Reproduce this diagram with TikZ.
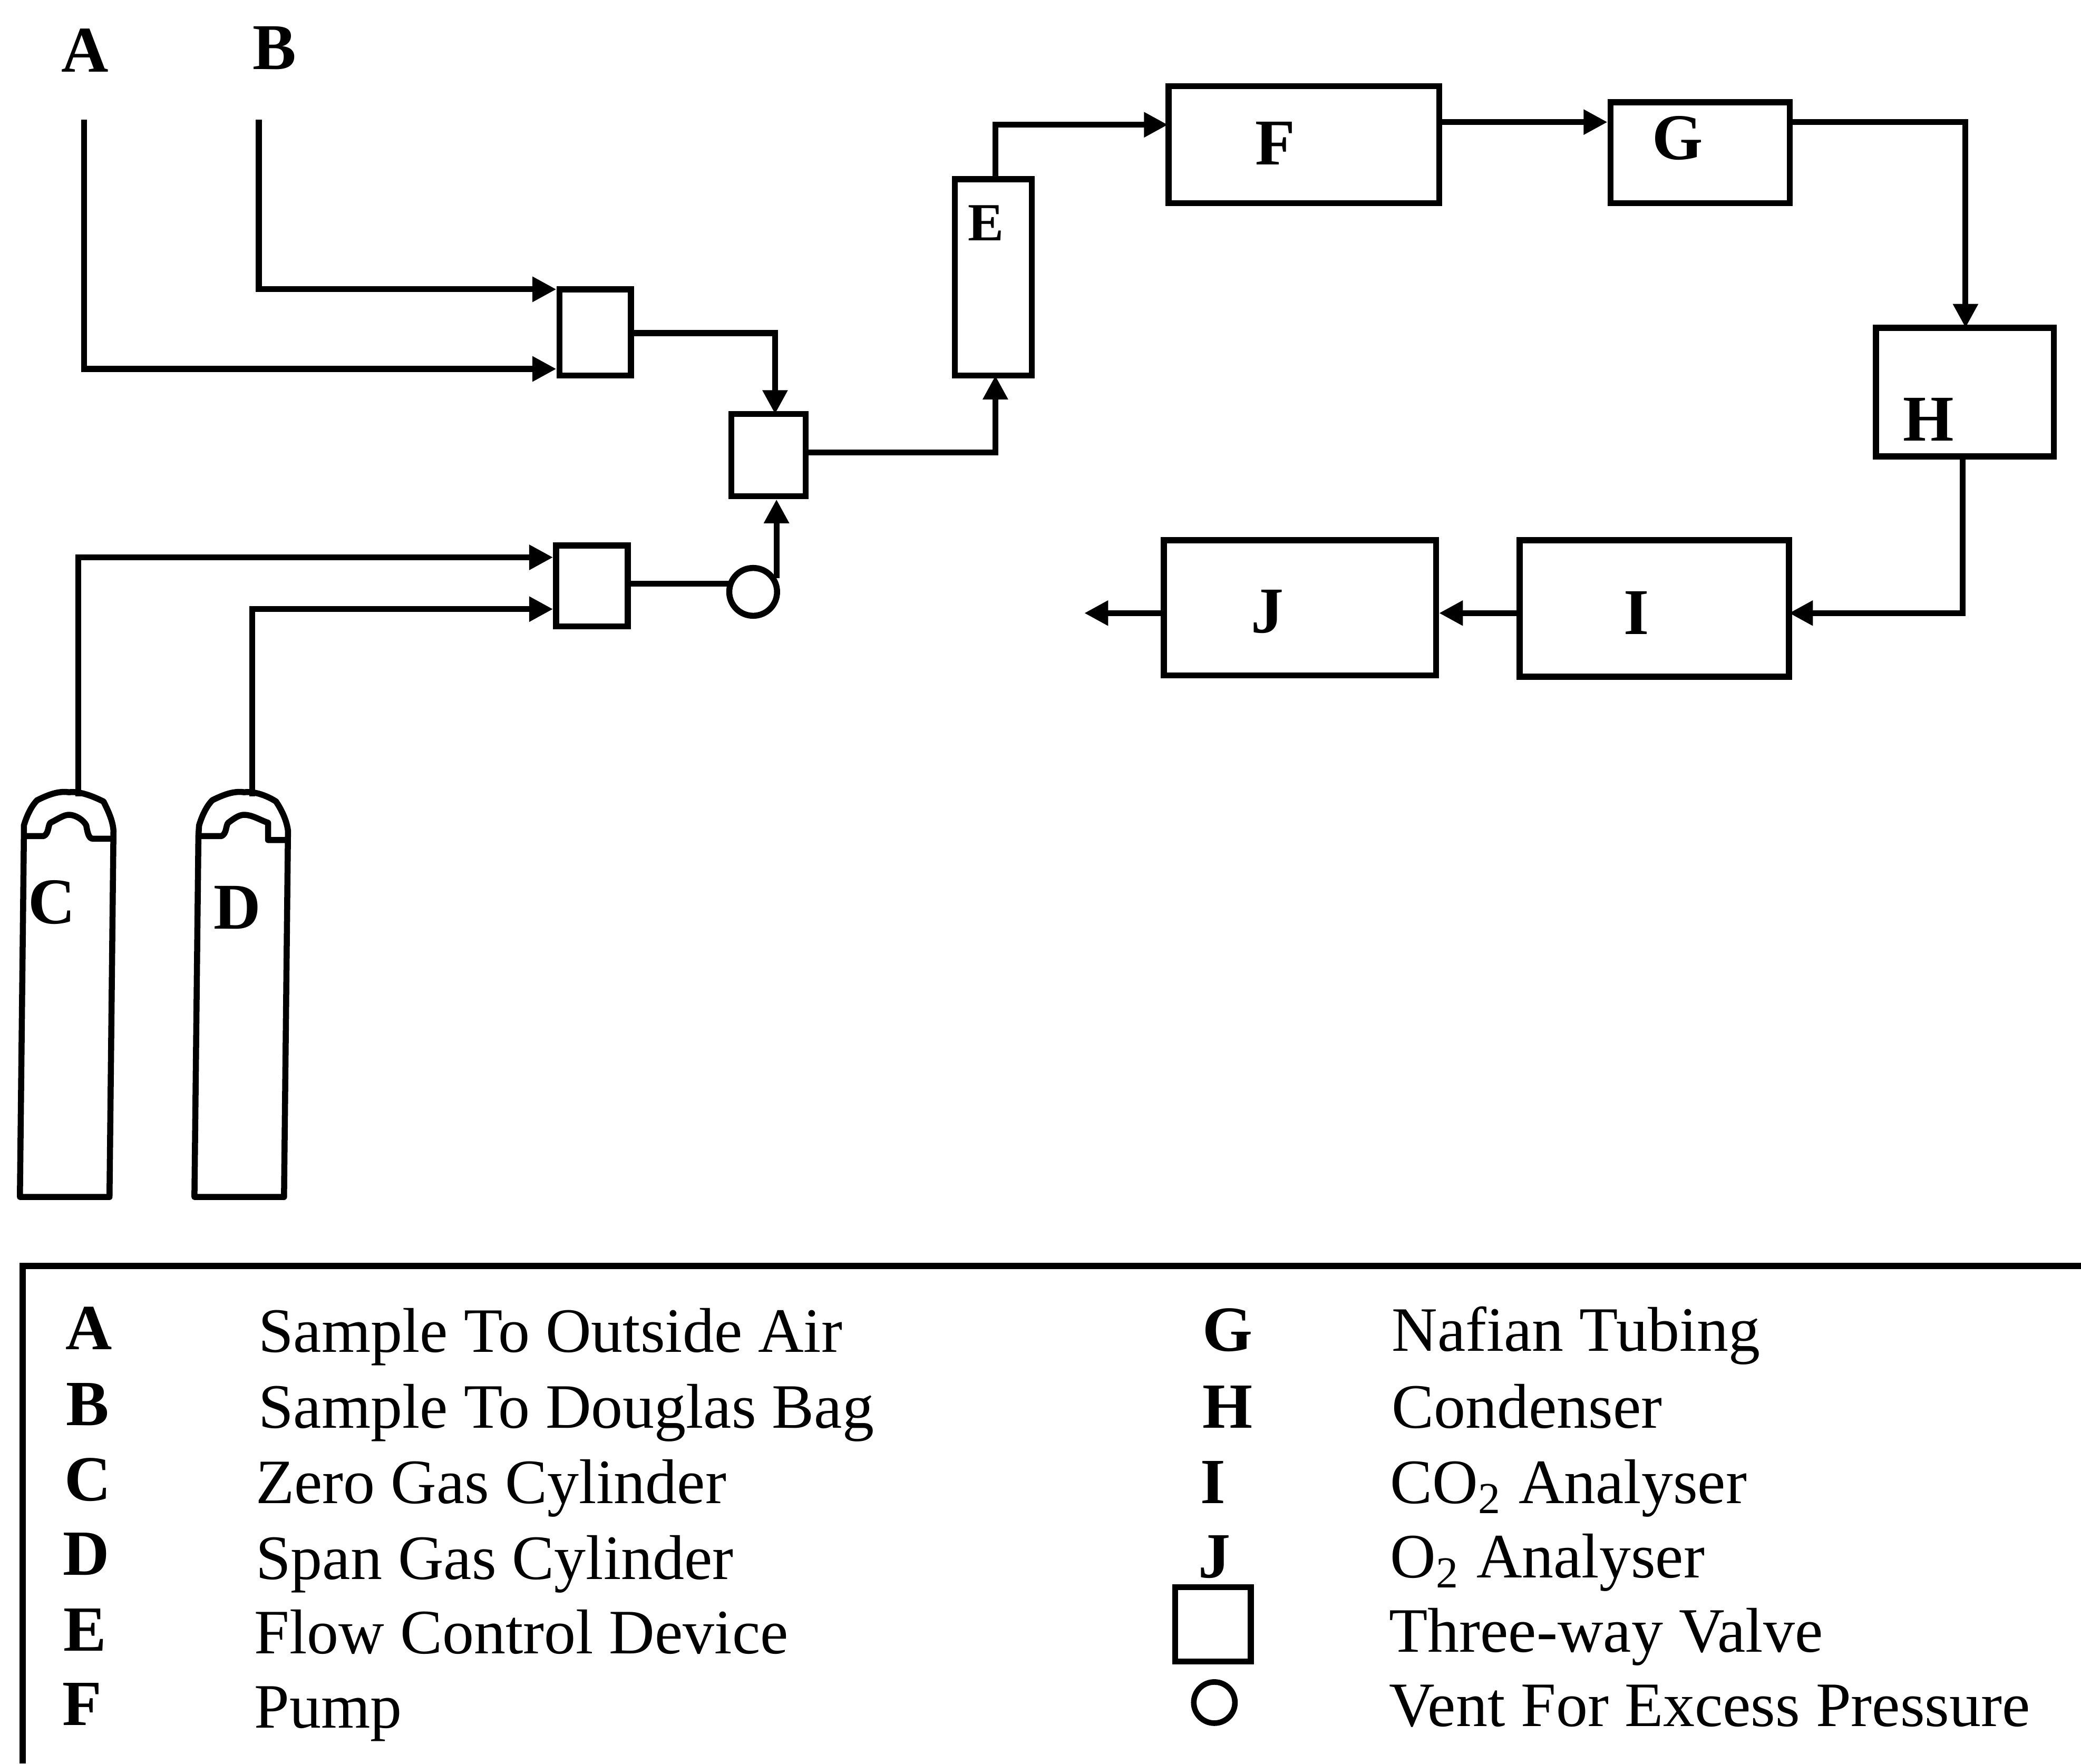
\documentclass[tikz,border=0pt]{standalone}
\usepackage{fontspec}
\setmainfont{Liberation Serif}
\usetikzlibrary{arrows.meta}
\tikzset{
  box/.style={draw=black,line width=1.3pt,fill=none,inner sep=0pt,rectangle},
  flow/.style={draw=black,line width=1.25pt,-{Triangle[length=0.18cm,width=0.18cm]}},
  plain/.style={draw=black,line width=1.25pt},
  cyl/.style={draw=black,line width=1.3pt,line join=round},
  tag/.style={inner sep=0pt,font=\fontsize{14}{16}\selectfont\bfseries},
  legkey/.style={inner sep=0pt,anchor=base,font=\fontsize{13.8}{16}\selectfont\bfseries},
  legtext/.style={inner sep=0pt,anchor=base west,font=\fontsize{13.55}{16}\selectfont},
}
\newcommand{\boxat}[6]{\node[box,minimum width=#4*0.01cm,minimum height=#5*0.01cm] (#1) at (#2,#3) {#6};}
\begin{document}
\begin{tikzpicture}[x=0.01cm,y=-0.01cm]
\useasboundingbox (0,0) rectangle (1568,1329);
% boxes
\boxat{vOne}{448.5}{250.5}{54}{65}{}
\boxat{vTwo}{579}{343}{56}{62}{}
\boxat{vThree}{446}{441.5}{54}{61}{}
\boxat{E}{748.5}{209}{58}{148}{}
\boxat{F}{982.5}{109}{204}{88}{}
\boxat{G}{1281}{115}{135}{76}{}
\boxat{H}{1480.5}{295.5}{134}{97}{}
\boxat{I}{1246.5}{458.5}{203}{103}{}
\boxat{J}{979.5}{458}{205}{102}{}
\node[draw=black,line width=1.3pt,circle,minimum size=0.36cm,inner sep=0pt] (vent) at (567.5,446) {};
% free ends and bends
\coordinate (aStart) at (63.5,90);
\coordinate (aTurn) at (63.5,278);
\coordinate (bStart) at (195,90);
\coordinate (bTurn) at (195,218);
\coordinate (cStart) at (59,600);
\coordinate (cTurn) at (59,420);
\coordinate (dStart) at (190,600);
\coordinate (dTurn) at (190,459);
\coordinate (vOneOut) at (476,251);
\coordinate (vTwoIn) at (584,312);
\coordinate (vTwoOut) at (607,341);
\coordinate (eIn) at (750,283);
\coordinate (eOut) at (750,135);
\coordinate (fIn) at (880,94);
\coordinate (fOut) at (1085,92);
\coordinate (gOut) at (1349,92);
\coordinate (hIn) at (1481,247);
\coordinate (hOut) at (1479,344);
\coordinate (iIn) at (1348,462);
\coordinate (exhaust) at (817,462);
% connectors
\draw[flow] (aStart) |- (vOne.west |- aTurn);
\draw[flow] (bStart) |- (vOne.west |- bTurn);
\draw[flow] (cStart) |- (vThree.west |- cTurn);
\draw[flow] (dStart) |- (vThree.west |- dTurn);
\draw[flow] (vOneOut) -| (vTwoIn);
\draw[plain] (vThree.east |- vent.west) ++(0,-6) -- ++(76,0);
\draw[flow] (vent.30) -- (vent.30 |- vTwo.south);
\draw[flow] (vTwoOut) -| (eIn);
\draw[flow] (eOut) |- (fIn);
\draw[flow] (fOut) -- (G.west |- fOut);
\draw[flow] (gOut) -| (hIn);
\draw[flow] (hOut) |- (iIn);
\draw[flow] (I.west |- iIn) -- (J.east |- iIn);
\draw[flow] (J.west |- iIn) -- (exhaust);
% cylinders
\draw[cyl] (15,902) -- (18,630) -- (18,622)
  .. controls (21,612) and (25,606) .. (28,603)
  .. controls (38,598) and (45,596) .. (52,597)
  .. controls (60,596) and (70,600) .. (78,604)
  .. controls (81,610) and (85,618) .. (85.5,626)
  -- (82.5,902) -- cycle;
\draw[cyl] (19,630) -- (33,630) .. controls (37,628) and (36,622) .. (38,620)
  .. controls (44,617) and (48,614) .. (52,614)
  .. controls (57,614) and (63,618) .. (65,622)
  .. controls (66,628) and (67,632) .. (70,632) -- (85,632);
\draw[cyl] (146.5,902) -- (149.5,630) -- (150,622)
  .. controls (153,612) and (157,606) .. (160,603)
  .. controls (170,598) and (177,596) .. (184,597)
  .. controls (192,596) and (202,600) .. (208,604)
  .. controls (212,610) and (216,618) .. (217,626)
  -- (214,902) -- cycle;
\draw[cyl] (151,630) -- (167,630) .. controls (171,628) and (170,622) .. (172,620)
  .. controls (176,617) and (180,614) .. (184,614)
  .. controls (190,614) and (196,618) .. (202,620)
  -- (202,633) -- (216,633);
% labels
\node[tag] (lA) at (64,38) {A};
\node[tag] (lB) at (207,36) {B};
\node[tag] (lC) at (39,680) {C};
\node[tag] (lD) at (179,684) {D};
\node[tag,font=\fontsize{11.5}{14}\selectfont\bfseries] (lE) at (743,168) {E};
\node[tag] (lF) at (961,108) {F};
\node[tag] (lG) at (1264,104) {G};
\node[tag] (lH) at (1453,316) {H};
\node[tag] (lI) at (1233,462) {I};
\node[tag] (lJ) at (955,461) {J};
% legend frame
\coordinate (frameLow) at (17,1329);
\coordinate (frameCorner) at (17,954);
\coordinate (frameEnd) at (1568,954);
\draw[line width=1.3pt] (frameLow) -- (frameCorner) -- (frameEnd);
% legend, left column
\node[legkey] (kA) at (67,1017) {A};
\node[legkey] (kB) at (66,1074) {B};
\node[legkey] (kC) at (66,1131) {C};
\node[legkey] (kD) at (65,1187) {D};
\node[legkey] (kE) at (64,1244) {E};
\node[legkey] (kF) at (62,1300) {F};
\node[legtext] (tA) at (194,1019) {Sample To Outside Air};
\node[legtext] (tB) at (194,1076) {Sample To Douglas Bag};
\node[legtext] (tC) at (192,1133) {Zero Gas Cylinder};
\node[legtext] (tD) at (192,1190) {Span Gas Cylinder};
\node[legtext] (tE) at (191,1246) {Flow Control Device};
\node[legtext] (tF) at (191,1302) {Pump};
% legend, right column
\node[legkey] (kG) at (925,1018) {G};
\node[legkey] (kH) at (925,1076) {H};
\node[legkey] (kI) at (914,1133) {I};
\node[legkey] (kJ) at (915,1189) {J};
\node[box,minimum width=0.57cm,minimum height=0.56cm] (kValve) at (914,1224) {};
\node[draw=black,line width=1.2pt,circle,minimum size=0.31cm,inner sep=0pt] (kVent) at (915,1283) {};
\node[legtext] (tG) at (1048,1018) {Nafian Tubing};
\node[legtext] (tH) at (1048,1076) {Condenser};
\node[legtext] (tI) at (1047,1133) {CO\textsubscript{2} Analyser};
\node[legtext] (tJ) at (1047,1189) {O\textsubscript{2} Analyser};
\node[legtext] (tK) at (1046,1245) {Three-way Valve};
\node[legtext] (tL) at (1046,1301) {Vent For Excess Pressure};
\end{tikzpicture}
\end{document}
